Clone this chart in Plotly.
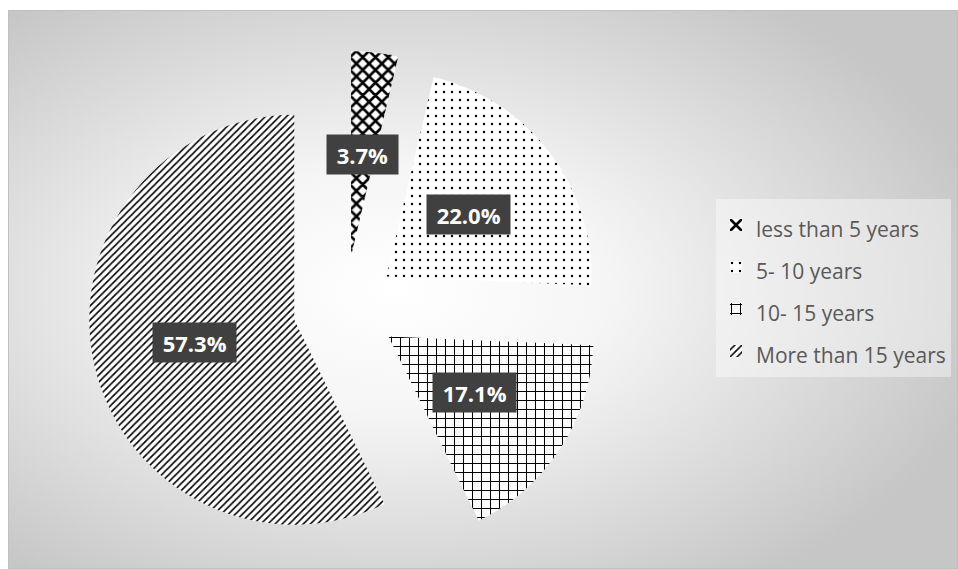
import base64
import math
import plotly.graph_objects as go

# ---- data ----
labels = ["less than 5 years", "5- 10 years", "10- 15 years", "More than 15 years"]
values = [3.7, 22.0, 17.1, 57.3]
patterns = ["x", ".", "+", "/"]
pattern_sizes = [9, 8, 9, 5]
pattern_solidity = [0.5, 0.07, 0.22, 0.32]

# ---- layout geometry (pixels) ----
W, H = 958, 569
CX, CY = 345, 308          # pie centre
R = 205                    # pie radius
PULL = 0.254               # explode distance as a fraction of the radius
half = R * (1 + PULL)
dom_x = [(CX - half) / W, (CX + half) / W]
dom_y = [1 - (CY + half) / H, 1 - (CY - half) / H]

# ---- radial gradient background of the chart area ----
svg = (
    "<svg xmlns='http://www.w3.org/2000/svg' width='950' height='559' "
    "viewBox='0 0 950 559' preserveAspectRatio='none'>"
    "<defs><radialGradient id='g' cx='0.41' cy='0.5' r='0.64'>"
    "<stop offset='0' stop-color='#ffffff'/>"
    "<stop offset='0.35' stop-color='#f5f5f5'/>"
    "<stop offset='1' stop-color='#c6c6c6'/>"
    "</radialGradient></defs>"
    "<rect x='0.5' y='0.5' width='949' height='558' fill='url(#g)' "
    "stroke='#c0c0c0' stroke-width='1'/></svg>"
)
bg_src = "data:image/svg+xml;base64," + base64.b64encode(svg.encode()).decode()

legend_names = [
    "<span style='font-size:21px'>" + lab + "</span>" for lab in labels
]

fig = go.Figure(
    go.Pie(
        labels=legend_names,
        values=values,
        sort=False,
        direction="clockwise",
        rotation=0,
        pull=[PULL] * len(values),
        textinfo="none",
        hoverinfo="skip",
        marker=dict(
            colors=["white"] * len(values),
            line=dict(width=0),
            pattern=dict(
                shape=patterns,
                fgcolor="black",
                bgcolor="white",
                fgopacity=1,
                size=pattern_sizes,
                solidity=pattern_solidity,
                fillmode="overlay",
            ),
        ),
        domain=dict(x=dom_x, y=dom_y),
    )
)

# ---- data labels in dark boxes, placed along each slice's bisector ----
total = sum(values)
cum = 0.0
for v in values:
    mid = 2 * math.pi * (cum + v / 2) / total
    cum += v
    dist = (PULL + 0.5) * R
    px = CX + dist * math.sin(mid)
    py = CY - dist * math.cos(mid)
    fig.add_annotation(
        x=px / W, y=1 - py / H, xref="paper", yref="paper",
        text="\u2009" + f"{v:.1f}%" + "\u2009",
        showarrow=False,
        font=dict(family="Open Sans", size=22, color="white", weight="bold"),
        bgcolor="#404040",
        borderpad=6,
        height=27,
        xanchor="center", yanchor="middle",
    )

fig.update_layout(
    width=W, height=H,
    margin=dict(l=0, r=0, t=0, b=0),
    paper_bgcolor="white",
    images=[dict(
        source=bg_src, xref="paper", yref="paper",
        x=8 / W, y=1 - 10 / H, sizex=950 / W, sizey=559 / H,
        xanchor="left", yanchor="top", sizing="stretch", layer="below",
    )],
    showlegend=True,
    legend=dict(
        x=716 / W, y=1 - 199 / H, xanchor="left", yanchor="top",
        font=dict(family="Open Sans", size=30, color="#595959"),
        bgcolor="rgba(255,255,255,0.4)",
        borderwidth=0,
        traceorder="normal",
    ),
)

fig.write_html("out.html")
